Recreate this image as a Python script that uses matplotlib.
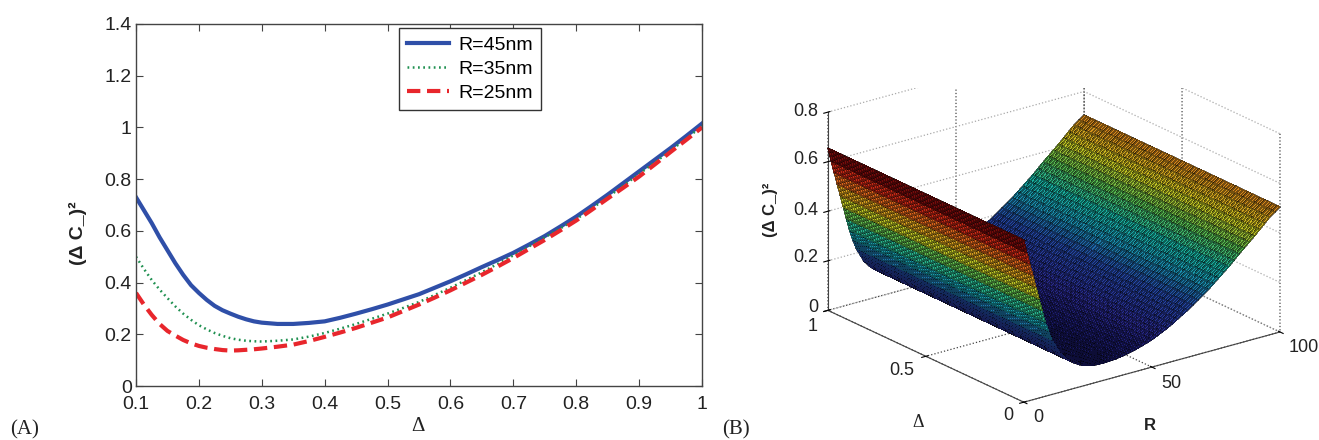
import numpy as np
import matplotlib
matplotlib.use('Agg')
import matplotlib.pyplot as plt
from matplotlib.colors import LinearSegmentedColormap
from matplotlib.patches import Rectangle
from mpl_toolkits.mplot3d import Axes3D

plt.rcParams['font.family'] = ['Liberation Sans', 'DejaVu Sans']

delta = [0.1, 0.1125, 0.125, 0.1375, 0.15, 0.1625, 0.175, 0.1875, 0.2, 0.2125, 0.225, 0.2375, 0.25, 0.2625, 0.275, 0.2875, 0.3,
         0.325, 0.35, 0.375, 0.4, 0.425, 0.45, 0.475, 0.5, 0.525, 0.55, 0.575, 0.6,
         0.625, 0.65, 0.675, 0.7, 0.725, 0.75, 0.775, 0.8, 0.825, 0.85, 0.875, 0.9, 0.925, 0.95, 0.975, 1.0]
r45 = [0.73, 0.68, 0.63, 0.575, 0.525, 0.475, 0.43, 0.39, 0.36, 0.333, 0.31, 0.293, 0.28, 0.268, 0.258, 0.25, 0.245,
       0.24, 0.24, 0.244, 0.25, 0.264, 0.28, 0.297, 0.315, 0.335, 0.355, 0.38, 0.405,
       0.432, 0.46, 0.487, 0.515, 0.547, 0.58, 0.617, 0.655, 0.697, 0.74, 0.785, 0.83, 0.875, 0.92, 0.967, 1.015]
r35 = [0.50, 0.453, 0.41, 0.373, 0.34, 0.308, 0.28, 0.256, 0.235, 0.219, 0.205, 0.194, 0.185, 0.179, 0.175, 0.173, 0.172,
       0.175, 0.18, 0.191, 0.205, 0.222, 0.24, 0.26, 0.28, 0.302, 0.325, 0.352, 0.38,
       0.41, 0.44, 0.472, 0.505, 0.54, 0.575, 0.61, 0.645, 0.687, 0.73, 0.775, 0.82, 0.865, 0.91, 0.957, 1.005]
r25 = [0.36, 0.315, 0.275, 0.24, 0.213, 0.195, 0.178, 0.165, 0.155, 0.148, 0.143, 0.139, 0.137, 0.138, 0.14, 0.142, 0.145,
       0.152, 0.16, 0.174, 0.19, 0.207, 0.225, 0.245, 0.265, 0.29, 0.315, 0.342, 0.37,
       0.40, 0.43, 0.462, 0.495, 0.53, 0.565, 0.602, 0.64, 0.682, 0.725, 0.767, 0.81, 0.857, 0.905, 0.952, 1.0]

surf_r = [0, 1.2, 2.4, 3.6, 4.8, 6, 7.2, 8.4, 9.6, 11, 12.5, 14, 16, 18, 20, 22, 24, 26, 28, 30, 32, 34, 36, 38, 40, 42, 44, 46, 48,
          50, 52, 54, 56, 58, 60, 62, 64, 66, 68, 70, 72, 74, 76, 78, 80, 82, 84, 86, 88, 90,
          92, 94, 96, 98, 100]
surf_z = [0.655, 0.60, 0.55, 0.50, 0.45, 0.40, 0.35, 0.30, 0.26, 0.22, 0.19, 0.16, 0.135, 0.115, 0.10, 0.088, 0.08, 0.074, 0.071,
          0.07, 0.07, 0.071, 0.073, 0.076, 0.08, 0.085, 0.09, 0.096, 0.103,
          0.11, 0.12, 0.13, 0.14, 0.152, 0.165, 0.178, 0.19, 0.205, 0.22, 0.235, 0.25,
          0.268, 0.285, 0.303, 0.32, 0.34, 0.36, 0.378, 0.397, 0.415, 0.435, 0.455, 0.475, 0.49, 0.505]
surf_delta = [0, 0.0125, 0.025, 0.0375, 0.05, 0.0625, 0.075, 0.0875, 0.1, 0.1125, 0.125, 0.1375, 0.15, 0.1625, 0.175, 0.1875,
              0.2, 0.2125, 0.225, 0.2375, 0.25, 0.2625, 0.275, 0.2875, 0.3, 0.3125, 0.325, 0.3375, 0.35, 0.3625, 0.375, 0.3875,
              0.4, 0.4125, 0.425, 0.4375, 0.45, 0.4625, 0.475, 0.4875, 0.5, 0.5125, 0.525, 0.5375, 0.55, 0.5625, 0.575, 0.5875,
              0.6, 0.6125, 0.625, 0.6375, 0.65, 0.6625, 0.675, 0.6875, 0.7, 0.7125, 0.725, 0.7375, 0.75, 0.7625, 0.775, 0.7875,
              0.8, 0.8125, 0.825, 0.8375, 0.85, 0.8625, 0.875, 0.8875, 0.9, 0.9125, 0.925, 0.9375, 0.95, 0.9625, 0.975, 0.9875, 1]

# colours, low to high
color_z = [0, 0.06, 0.12, 0.2, 0.26, 0.31, 0.37, 0.43, 0.5, 0.56, 0.61, 0.66]
color_hex = ['#0a0a34', '#14145a', '#2a2a90', '#2548a8', '#1a90b0', '#18b0a0', '#55b850', '#c8c420', '#d8861c', '#dc3418', '#981010', '#3c0404']

W, H = 1319, 440
fig = plt.figure(figsize=(W / 100, H / 100), dpi=100)

# panel A
ax = fig.add_axes([136 / W, (H - 386) / H, 566 / W, 362 / H])
ax.plot(delta, r45, color='#2f4fa8', lw=3, label='R=45nm')
ax.plot(delta, r35, color='#1f9050', lw=1.8, ls=(0, (0.7, 1.4)), label='R=35nm')
ax.plot(delta, r25, color='#e8262c', lw=3, ls=(0, (3.2, 1.6)), label='R=25nm')
ax.set_xlim(0.1, 1)
ax.set_ylim(0, 1.4)
ax.set_xticks([0.1, 0.2, 0.3, 0.4, 0.5, 0.6, 0.7, 0.8, 0.9, 1])
ax.set_xticklabels(['0.1', '0.2', '0.3', '0.4', '0.5', '0.6', '0.7', '0.8', '0.9', '1'], fontsize=14)
ax.set_yticks([0, 0.2, 0.4, 0.6, 0.8, 1, 1.2, 1.4])
ax.set_yticklabels(['0', '0.2', '0.4', '0.6', '0.8', '1', '1.2', '1.4'], fontsize=14)
ax.tick_params(direction='in', top=True, right=True, length=5, width=0.8, color='#444444', labelcolor='#222222')
ax.tick_params(axis='x', pad=7)
ax.tick_params(axis='y', pad=3)
for s in ax.spines.values():
    s.set_color('#444444')
    s.set_linewidth(1)
leg = ax.legend(loc='upper left', bbox_to_anchor=(399 / W, (H - 28) / H),
                bbox_transform=fig.transFigure, fancybox=False, framealpha=1,
                edgecolor='#333333', borderaxespad=0, handlelength=2.15, labelspacing=0.33,
                borderpad=0.42, handletextpad=0.5, prop={'size': 14})
leg.get_frame().set_linewidth(1)

fig.text(78 / W, (H - 233) / H, '(Δ C_)²', rotation=90, fontsize=14, fontweight='bold', color='#222222',
         ha='center', va='center')
fig.text(418 / W, (H - 426) / H, 'Δ', family='Liberation Serif', fontsize=15, ha='center', va='center', color='#222222')
fig.text(10 / W, (H - 430) / H, '(A)', family='Liberation Serif', fontsize=15, va='center', color='#222222')
fig.text(722 / W, (H - 430) / H, '(B)', family='Liberation Serif', fontsize=15, va='center', color='#222222')

# panel B
ax3 = fig.add_axes([751.5 / W, -8 / H, 593 / W, 1.0], projection='3d', proj_type='ortho')
ax3.patch.set_alpha(0)
ax3.view_init(elev=21, azim=-127.4)
ax3.set_box_aspect((322, 322, 212), zoom=1.11)
X, Y = np.meshgrid(np.array(surf_r), np.array(surf_delta))
Z = np.tile(np.array(surf_z), (len(surf_delta), 1))
surf_cmap = LinearSegmentedColormap.from_list('printed', [(z / 0.66, c) for z, c in zip(color_z, color_hex)])
surf = ax3.plot_surface(X, Y, Z, rstride=1, cstride=1, cmap=surf_cmap, vmin=0, vmax=0.66, shade=False,
                        edgecolor=(0, 0, 0, 0.45), linewidth=0.3, antialiased=False)
surf.set_clip_on(False)
ax3.set_xlim(0, 100)
ax3.set_ylim(0, 1)
ax3.set_zlim(0, 0.8)
ax3.set_xticks([0, 50, 100])
ax3.set_yticks([0, 0.5, 1])
ax3.set_zticks([0, 0.2, 0.4, 0.6, 0.8])
ax3.set_xticklabels([])
ax3.set_yticklabels([])
ax3.set_zticklabels([])
for axis in (ax3.xaxis, ax3.yaxis, ax3.zaxis):
    axis.set_pane_color((1, 1, 1, 0))
    axis.pane.set_edgecolor((0, 0, 0, 0))
    axis.line.set_color('#444444')
    axis.line.set_clip_on(False)
ax3.xaxis._axinfo['grid'].update(color='#444444', linestyle=':', linewidth=0.9)
ax3.yaxis._axinfo['grid'].update(color='#444444', linestyle=':', linewidth=0.9)
ax3.zaxis._axinfo['grid'].update(color='#aaaaaa', linestyle=':', linewidth=0.9)

# the printed panel is cut off along its top edge
fig.add_artist(Rectangle((835 / W, (H - 88) / H), 484 / W, 88 / H, transform=fig.transFigure,
                         facecolor='white', edgecolor='none', zorder=5))

# tick labels of the 3D box, placed by hand as mplot3d cannot offset them sideways
for label, y in zip(['0', '0.2', '0.4', '0.6', '0.8'], [307, 258, 210, 160, 112]):
    fig.text(818 / W, (H - y) / H, label, fontsize=13, ha='right', va='center', color='#222222')
for label, x, y in zip(['0', '0.5', '1'], [1008, 902, 813], [415, 370, 326]):
    fig.text(x / W, (H - y) / H, label, fontsize=13, ha='center', va='center', color='#222222')
for label, x, y in zip(['0', '50', '100'], [1038, 1171, 1304], [417, 383, 347]):
    fig.text(x / W, (H - y) / H, label, fontsize=13, ha='center', va='center', color='#222222')

fig.text(770 / W, (H - 210) / H, '(Δ C_)²', rotation=90, fontsize=12, fontweight='bold', color='#222222',
         ha='center', va='center')
fig.text(918 / W, (H - 422) / H, 'Δ', family='Liberation Serif', fontsize=13, ha='center', va='center', color='#222222')
fig.text(1150 / W, (H - 425) / H, 'R', fontsize=12, fontweight='bold', ha='center', va='center', color='#222222')

fig.savefig('out.png', dpi=100)
